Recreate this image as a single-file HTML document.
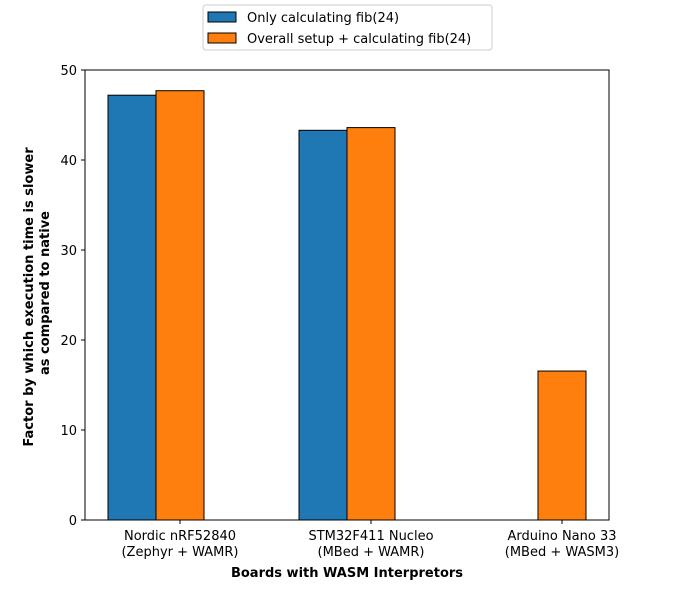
<!DOCTYPE html>
<html><head><meta charset="utf-8"><style>
body{margin:0;background:#fff;}
svg text{font-family:"DejaVu Sans","Liberation Sans",sans-serif;fill:#000;}
</style></head><body>
<svg id="chart" width="677" height="584" xmlns="http://www.w3.org/2000/svg">
<g id="bars"></g>
<g id="axes"></g>
<text x="347" y="577" text-anchor="middle" font-size="13" font-weight="bold">Boards with WASM Interpretors</text>
<text transform="translate(33,297) rotate(-90)" text-anchor="middle" font-size="13" font-weight="bold">Factor by which execution time is slower</text>
<text transform="translate(49,293) rotate(-90)" text-anchor="middle" font-size="13" font-weight="bold">as compared to native</text>
<g>
<rect x="203" y="5" width="289" height="45" rx="3" fill="#fff" stroke="#ccc"/>
<rect x="208" y="12" width="28" height="10" fill="#1f77b4" stroke="#000"/>
<text x="247" y="22" font-size="13">Only calculating fib(24)</text>
<rect x="208" y="33" width="28" height="10" fill="#ff7f0e" stroke="#000"/>
<text x="247" y="43" font-size="13">Overall setup + calculating fib(24)</text>
</g>
</svg>
<script>
const categories = ["Nordic nRF52840|(Zephyr + WAMR)", "STM32F411 Nucleo|(MBed + WAMR)", "Arduino Nano 33|(MBed + WASM3)"];
const onlyFib = [47.2, 43.3, 0];
const overallFib = [47.7, 43.6, 16.55];
const yTicks = [0, 10, 20, 30, 40, 50];
const NS = "http://www.w3.org/2000/svg";
const L = 85, R = 609, T = 70, B = 520;
const yMax = 50;
function y(v){ return B - (v / yMax) * (B - T); }
function xc(i){ return 156 + 191 * i; }
const bw = 48;
function mk(tag, attrs, parent){ const e = document.createElementNS(NS, tag); for (const k in attrs) e.setAttribute(k, attrs[k]); parent.appendChild(e); return e; }
const bars = document.getElementById('bars');
const axes = document.getElementById('axes');
categories.forEach((c, i) => {
  const b1 = mk('rect', {x: xc(i) - bw, y: y(onlyFib[i]), width: bw, height: B - y(onlyFib[i]), fill: '#1f77b4', stroke: '#000', 'stroke-width': 1}, bars);
  
  
  const b2 = mk('rect', {x: xc(i), y: y(overallFib[i]), width: bw, height: B - y(overallFib[i]), fill: '#ff7f0e', stroke: '#000', 'stroke-width': 1}, bars);
  
  
  const tx = xc(i) + bw / 2;
  mk('line', {x1: tx, x2: tx, y1: B, y2: B + 4, stroke: '#000'}, axes);
  const parts = c.split('|');
  const t1 = mk('text', {x: tx, y: B + 20, 'text-anchor': 'middle', 'font-size': 13}, axes);
  t1.textContent = parts[0];
  
  
  const t2 = mk('text', {x: tx, y: B + 36, 'text-anchor': 'middle', 'font-size': 13}, axes);
  t2.textContent = parts[1];
  
  
});
yTicks.forEach(v => {
  mk('line', {x1: L - 4, x2: L, y1: y(v), y2: y(v), stroke: '#000'}, axes);
  const t = mk('text', {x: L - 8, y: y(v) + 5, 'text-anchor': 'end', 'font-size': 13}, axes);
  t.textContent = v;
  
  
});
const frame = mk('rect', {x: L, y: T, width: R - L, height: B - T, fill: 'none', stroke: '#000', 'stroke-width': 1}, axes);


</script>
</body></html>
